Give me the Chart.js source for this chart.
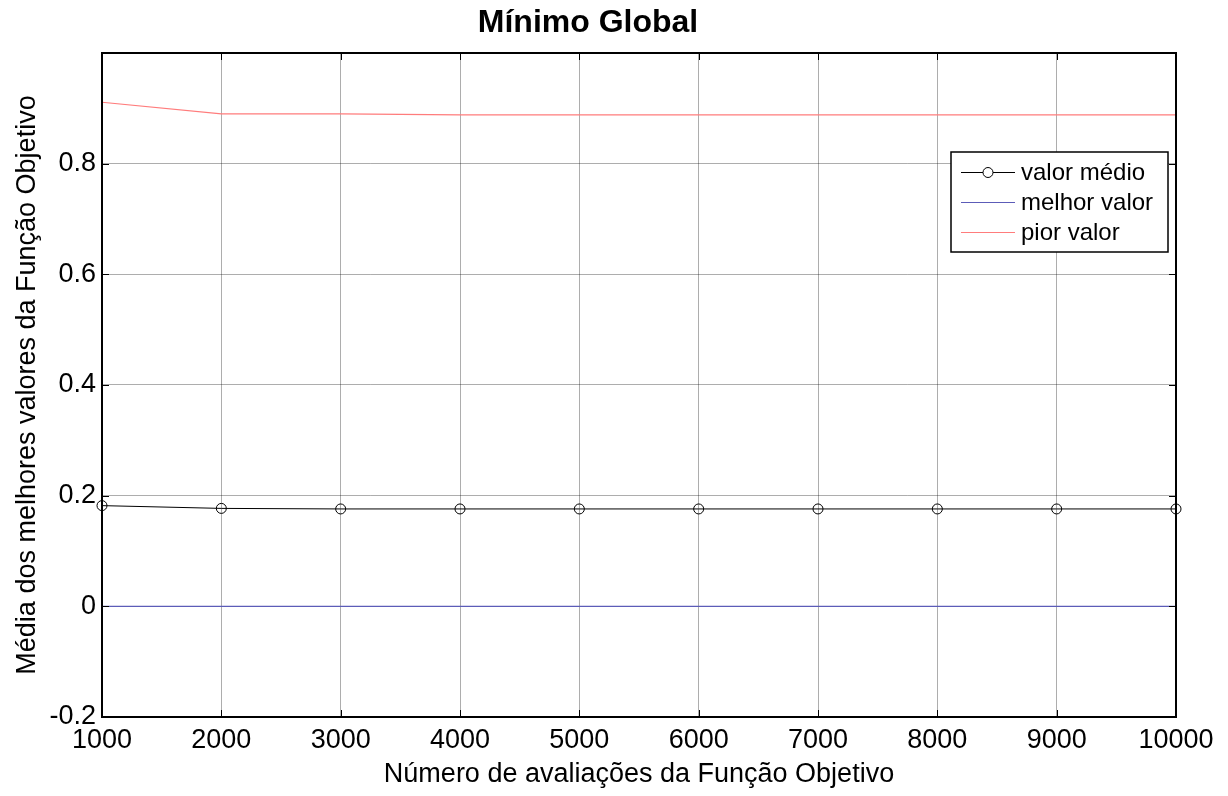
<!DOCTYPE html>
<html>
<head>
<meta charset="utf-8">
<script src="https://cdn.jsdelivr.net/npm/chart.js@4.4.1/dist/chart.umd.min.js"></script>
<style>
  html,body{margin:0;padding:0;background:#fff;}
  #wrap{width:1228px;height:796px;position:relative;}
</style>
</head>
<body>
<div id="wrap"><canvas id="grafico"></canvas></div>
<script>
/* dados */
const AVALIACOES   = [1000, 2000, 3000, 4000, 5000, 6000, 7000, 8000, 9000, 10000];
const VALOR_MEDIO  = [0.182, 0.177, 0.176, 0.176, 0.176, 0.176, 0.176, 0.176, 0.176, 0.176];
const MELHOR_VALOR = [0, 0, 0, 0, 0, 0, 0, 0, 0, 0];
const PIOR_VALOR   = [0.911, 0.890, 0.890, 0.888, 0.888, 0.888, 0.888, 0.888, 0.888, 0.888];
const X_TICKS = [1000, 2000, 3000, 4000, 5000, 6000, 7000, 8000, 9000, 10000];
const Y_TICKS = [-0.2, 0, 0.2, 0.4, 0.6, 0.8, 1.0];
const SERIES  = ["valor médio", "melhor valor", "pior valor"];

const COR_MEDIO = "#000000";
const COR_MELHOR = "#5c5cb8";
const COR_PIOR = "#ff7c7c";

Chart.defaults.font.family = "'Liberation Sans', Arial, sans-serif";
Chart.defaults.color = "#000";

const pts = (ys)=>AVALIACOES.map((x,i)=>({x, y: ys[i]}));

/* moldura estilo MATLAB + legenda interna */
const moldura = {
  id: "moldura",
  afterDraw(chart){
    const { ctx, chartArea: ca, scales: { x, y } } = chart;
    ctx.save();
    ctx.strokeStyle = "#000";
    ctx.lineWidth = 1;
    const tl = 7;
    ctx.beginPath();
    x.ticks.forEach(t=>{
      const px = Math.round(x.getPixelForValue(t.value)) + 0.5;
      ctx.moveTo(px, ca.top); ctx.lineTo(px, ca.top + tl);
      ctx.moveTo(px, ca.bottom); ctx.lineTo(px, ca.bottom - tl);
    });
    y.ticks.forEach(t=>{
      const py = Math.round(y.getPixelForValue(t.value)) + 0.5;
      ctx.moveTo(ca.left, py); ctx.lineTo(ca.left + tl, py);
      ctx.moveTo(ca.right, py); ctx.lineTo(ca.right - tl, py);
    });
    ctx.stroke();
    ctx.lineWidth = 2;
    ctx.strokeRect(ca.left, ca.top, ca.width, ca.height);

    // legenda
    const bx = ca.right - 225, by = ca.top + 99, bw = 217, bh = 100;
    ctx.fillStyle = "#fff";
    ctx.fillRect(bx, by, bw, bh);
    ctx.lineWidth = 1.5;
    ctx.strokeRect(bx, by, bw, bh);
    const cores = [COR_MEDIO, COR_MELHOR, COR_PIOR];
    ctx.font = "24px 'Liberation Sans', Arial, sans-serif";
    ctx.textBaseline = "middle";
    SERIES.forEach((s,i)=>{
      const ry = by + 20 + i*30;
      ctx.strokeStyle = cores[i];
      ctx.lineWidth = 1;
      ctx.beginPath();
      ctx.moveTo(bx + 10, ry + 0.5); ctx.lineTo(bx + 64, ry + 0.5);
      ctx.stroke();
      if(i === 0){
        ctx.beginPath();
        ctx.arc(bx + 37, ry + 0.5, 5, 0, Math.PI*2);
        ctx.fillStyle = "#fff"; ctx.fill();
        ctx.stroke();
      }
      ctx.fillStyle = "#000";
      ctx.fillText(s, bx + 70, ry + 1);
    });
    ctx.restore();
  }
};

new Chart(document.getElementById("grafico"), {
  type: "line",
  data: {
    datasets: [
      { label: SERIES[0], data: pts(VALOR_MEDIO), borderColor: COR_MEDIO, borderWidth: 1,
        pointRadius: 5, pointBorderColor: COR_MEDIO, pointBorderWidth: 1,
        pointBackgroundColor: "rgba(0,0,0,0)", clip: false, tension: 0 },
      { label: SERIES[1], data: pts(MELHOR_VALOR), borderColor: COR_MELHOR, borderWidth: 1.2,
        pointRadius: 0, clip: false, tension: 0 },
      { label: SERIES[2], data: pts(PIOR_VALOR), borderColor: COR_PIOR, borderWidth: 1.2,
        pointRadius: 0, clip: false, tension: 0 }
    ]
  },
  options: {
    responsive: true,
    maintainAspectRatio: false,
    animation: false,
    layout: { padding: { left: 0, right: 52, top: 0, bottom: 0 } },
    plugins: {
      legend: { display: false },
      tooltip: { enabled: false },
      title: {
        display: true,
        text: "Mínimo Global",
        font: { size: 32, weight: "bold" },
        color: "#000",
        padding: { top: 4, bottom: 10.6 }
      }
    },
    scales: {
      x: {
        type: "linear",
        min: 1000, max: 10000,
        afterBuildTicks: (s)=>{ s.ticks = X_TICKS.map(v=>({ value: v })); },
        afterFit: (s)=>{ s.height = 79; },
        ticks: { font: { size: 27 }, color: "#000", padding: 7, maxRotation: 0,
                 callback: (v)=>String(v) },
        grid: { color: "rgba(0,0,0,0.32)", lineWidth: 1, drawTicks: false },
        border: { display: false },
        title: { display: true, text: "Número de avaliações da Função Objetivo",
                 font: { size: 27 }, color: "#000", padding: { top: 0, bottom: 5 } }
      },
      y: {
        min: -0.2, max: 1.0,
        afterBuildTicks: (s)=>{ s.ticks = Y_TICKS.map(v=>({ value: v })); },
        afterFit: (s)=>{ s.width = 102; },
        ticks: { font: { size: 27 }, color: "#000", padding: 6,
                 callback: (v)=> Math.abs(v - 1) < 1e-9 ? "" : String(Math.round(v*10)/10) },
        grid: { color: "rgba(0,0,0,0.32)", lineWidth: 1, drawTicks: false },
        border: { display: false },
        title: { display: true, text: "Média dos melhores valores da Função Objetivo",
                 font: { size: 27 }, color: "#000", padding: { top: 11, bottom: 0 } }
      }
    }
  },
  plugins: [moldura]
});
</script>
</body>
</html>
